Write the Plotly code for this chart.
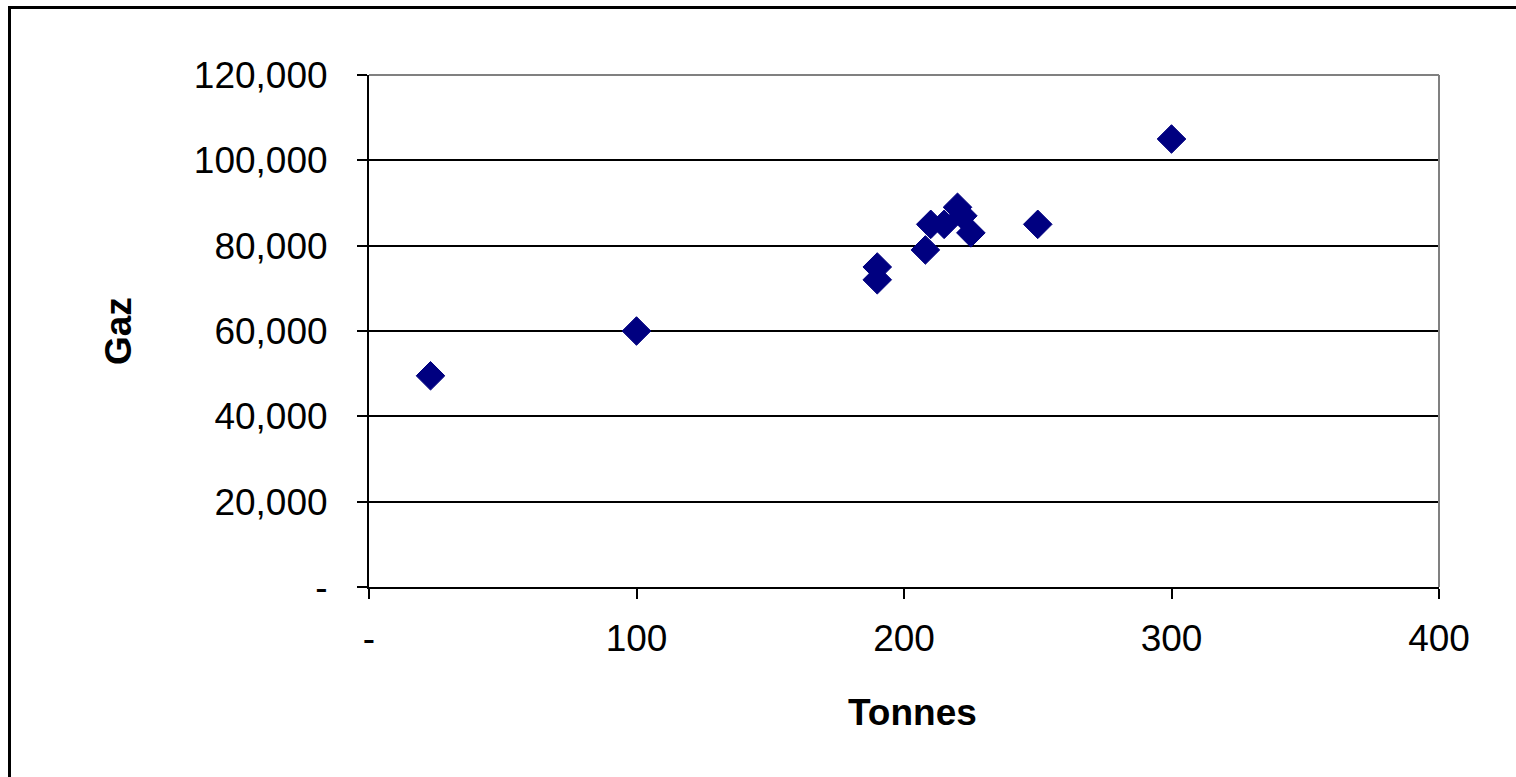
import plotly.graph_objects as go

tonnes = [23, 100, 190, 190, 208, 210, 215, 220, 222, 225, 250, 300]
gaz = [49500, 60000, 75000, 72000, 79000, 85000, 85000, 89000, 87000, 83000, 85000, 105000]

x_tickvals = [0, 100, 200, 300, 400]
x_ticktext = ["-", "100", "200", "300", "400"]
y_tickvals = [0, 20000, 40000, 60000, 80000, 100000, 120000]
y_ticktext = ["-", "20,000", "40,000", "60,000", "80,000", "100,000", "120,000"]

FONT = "Liberation Sans, Arial, sans-serif"
W, H = 1516, 777
L, R, T, B = 369, 1439, 75, 587

fig = go.Figure()
fig.add_trace(go.Scatter(
    x=tonnes, y=gaz, mode="markers",
    marker=dict(symbol="diamond", size=22, color="#000080",
                line=dict(color="#000080", width=1)),
    showlegend=False, cliponaxis=False,
))

fig.update_layout(
    width=W, height=H,
    margin=dict(l=L, r=W - R, t=T, b=H - B, autoexpand=False),
    paper_bgcolor="white", plot_bgcolor="white",
    font=dict(family=FONT, size=37, color="black"),
    xaxis=dict(range=[0, 400], tickvals=x_tickvals, ticktext=x_ticktext,
               showgrid=False, zeroline=False, showline=True, linecolor="black",
               linewidth=2, ticks="outside", ticklen=10, tickwidth=2,
               tickcolor="black", ticklabelstandoff=8,
               tickfont=dict(family=FONT, size=37)),
    yaxis=dict(range=[0, 120000], tickvals=y_tickvals, ticktext=y_ticktext,
               showgrid=True, gridcolor="black", gridwidth=2, zeroline=False,
               showline=True, linecolor="black", linewidth=2, ticks="outside",
               ticklen=10, tickwidth=2, tickcolor="black", ticklabelstandoff=22,
               tickfont=dict(family=FONT, size=37)),
)

def px2x(px):
    return (px - L) / (R - L)

def py2y(py):
    return (B - py) / (B - T)

shapes = [
    dict(type="line", xref="paper", yref="paper", x0=0, x1=1, y0=1, y1=1,
         line=dict(color="#808080", width=2), layer="above"),
    dict(type="line", xref="paper", yref="paper", x0=1, x1=1, y0=0, y1=1,
         line=dict(color="#808080", width=2), layer="above"),
    # outer chart border (left and top visible)
    dict(type="line", xref="paper", yref="paper",
         x0=px2x(9.5), x1=px2x(1700), y0=py2y(7.5), y1=py2y(7.5),
         line=dict(color="black", width=3), layer="below"),
    dict(type="line", xref="paper", yref="paper",
         x0=px2x(9.5), x1=px2x(9.5), y0=py2y(6), y1=py2y(900),
         line=dict(color="black", width=3), layer="below"),
]
fig.update_layout(shapes=shapes)

fig.add_annotation(text="<b>Tonnes</b>", xref="paper", yref="paper",
                   x=px2x(912), y=py2y(712), showarrow=False,
                   xanchor="center", yanchor="middle",
                   font=dict(family=FONT, size=37, color="black"))
fig.add_annotation(text="<b>Gaz</b>", xref="paper", yref="paper",
                   x=px2x(118), y=py2y(331), showarrow=False, textangle=-90,
                   xanchor="center", yanchor="middle",
                   font=dict(family=FONT, size=37, color="black"))

fig.write_html("out.html")
